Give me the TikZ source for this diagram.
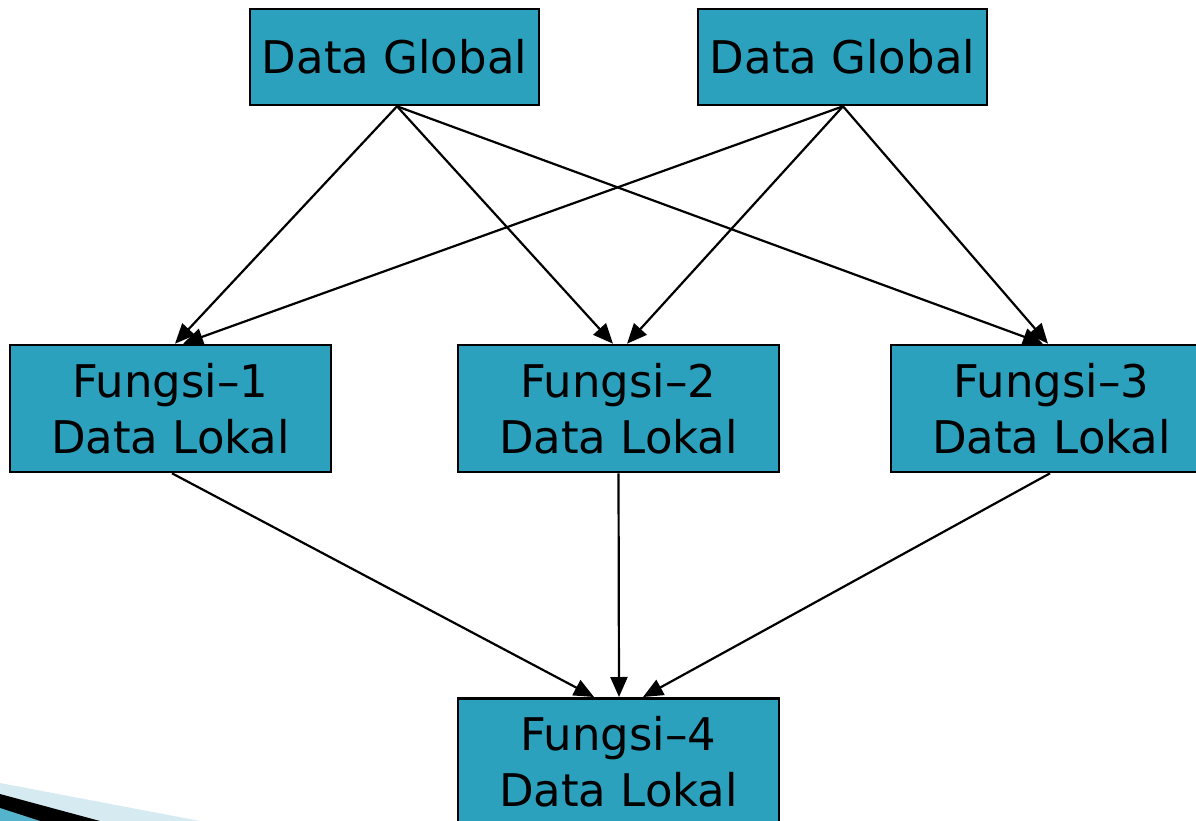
\documentclass[tikz,border=0pt]{standalone}
\usepackage{fontspec}
\setmainfont{DejaVu Sans}
\usetikzlibrary{arrows.meta,calc}
\definecolor{boxteal}{RGB}{43,161,190}
\definecolor{swoosh}{RGB}{214,234,242}
\tikzset{
  databox/.style={draw=black, line width=2.6pt, fill=boxteal, inner sep=0pt,
    minimum width=289pt, minimum height=96pt, font=\fontsize{45}{56}\selectfont},
  funcbox/.style={draw=black, line width=2.6pt, fill=boxteal, inner sep=0pt,
    minimum width=321pt, minimum height=127pt, align=center,
    font=\fontsize{45}{56}\selectfont},
  link/.style={line width=2.2pt, -{Triangle[length=20pt,width=17pt]}}
}
\begin{document}
\begin{tikzpicture}[x=1pt,y=-1pt]
  \clip (0,0) rectangle (1196,821);
  \fill[white] (0,0) rectangle (1196,821);

  % slide ornament, lower left corner
  \fill[swoosh] (0,783) -- (200,821) -- (0,821) -- cycle;
  \fill[black] (0,794) -- (100,821) -- (0,821) -- cycle;
  \fill[boxteal!80!white] (0,808) -- (40,821) -- (0,821) -- cycle;

  % global data
  \node[databox] (g1) at (394.5,57) {Data Global};
  \node[databox] (g2) at (842.5,57) {Data Global};

  % functions with local data
  \node[funcbox] (f1) at (170.5,408.5) {Fungsi–1\\Data Lokal};
  \node[funcbox] (f2) at (618.5,408.5) {Fungsi–2\\Data Lokal};
  \node[funcbox] (f3) at (1051.5,408.5) {Fungsi–3\\Data Lokal};
  \node[funcbox, anchor=north] (f4) at (618.5,697) {Fungsi–4\\Data Lokal};

  % entry points on the top edges
  \coordinate (g1out) at ($(g1.south)+(2.5,0)$);
  \coordinate (g2out) at ($(g2.south)+(0.5,0)$);
  \coordinate (f1a) at ($(f1.north)+(4.5,0)$);
  \coordinate (f1b) at ($(f1.north)+(12.5,0)$);
  \coordinate (f2a) at ($(f2.north)+(-5.5,0)$);
  \coordinate (f2b) at ($(f2.north)+(8.5,0)$);
  \coordinate (f3a) at ($(f3.north)+(-8.5,0)$);
  \coordinate (f3b) at ($(f3.north)+(-3.5,0)$);
  \coordinate (f4a) at ($(f4.north)+(-24.5,0)$);
  \coordinate (f4b) at ($(f4.north)+(0.5,0)$);
  \coordinate (f4c) at ($(f4.north)+(24.5,0)$);

  % global data reaches every function
  \draw[link] (g1out) -- (f1a);
  \draw[link] (g1out) -- (f2a);
  \draw[link] (g1out) -- (f3a);
  \draw[link] (g2out) -- (f1b);
  \draw[link] (g2out) -- (f2b);
  \draw[link] (g2out) -- (f3b);

  % functions 1-3 feed function 4
  \draw[link] ($(f1.south)+(1.5,0)$) -- (f4a);
  \draw[link] (f2.south) -- (f4b);
  \draw[link] ($(f3.south)+(-1.5,0)$) -- (f4c);
\end{tikzpicture}
\end{document}
